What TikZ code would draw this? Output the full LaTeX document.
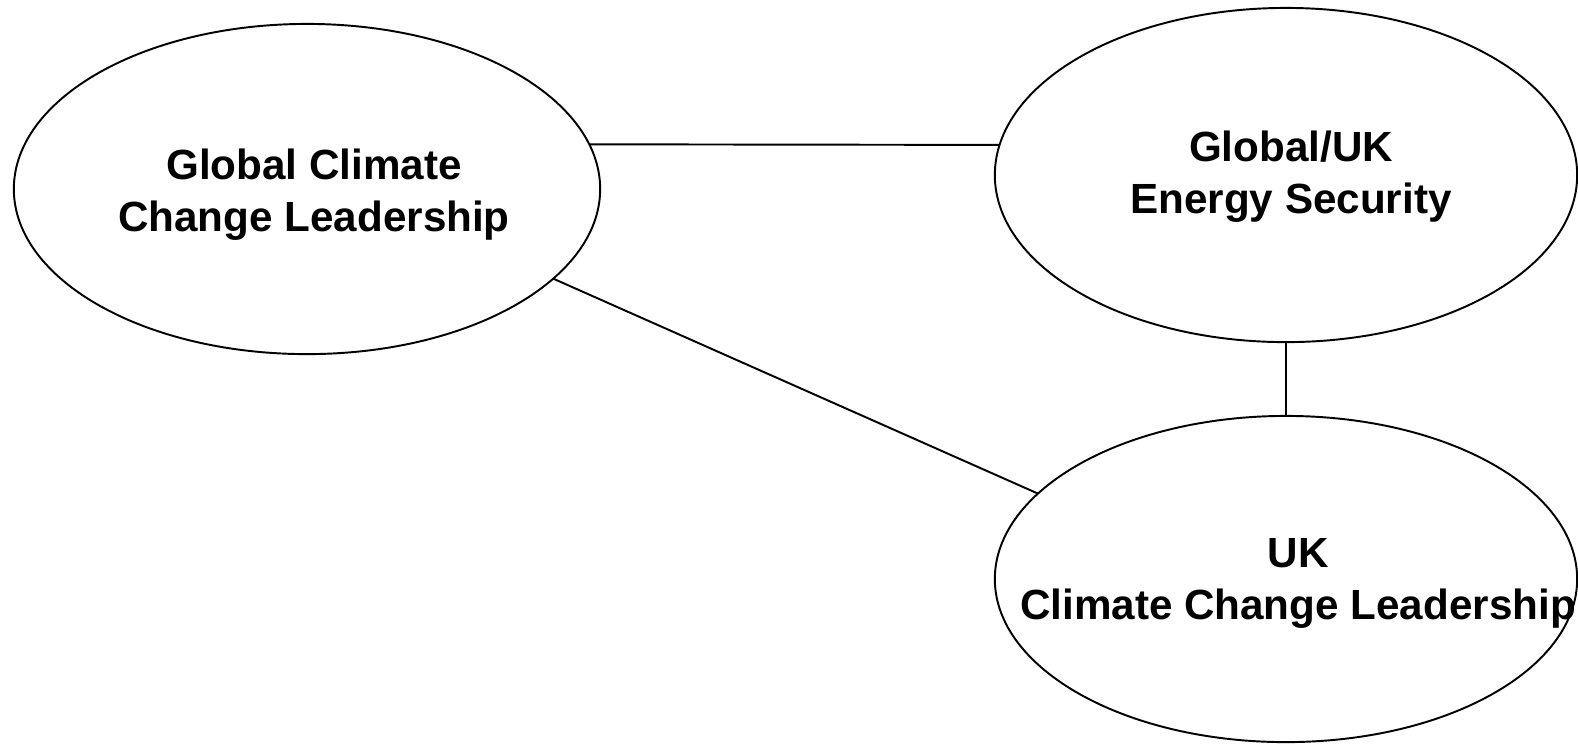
\documentclass[tikz,border=0pt]{standalone}
\usepackage{fontspec}
\setmainfont{Liberation Sans}
\usetikzlibrary{shapes.geometric}

\begin{document}
\begin{tikzpicture}[x=0.01cm,y=-0.01cm]
		    \tikzstyle{oval}=[ellipse, draw, line width=0.55pt, inner sep=0pt, outer sep=0pt]
		    \tikzstyle{link}=[line width=0.55pt]
		    \tikzstyle{txt}=[align=center, font=\fontsize{12}{14.8}\selectfont\bfseries]
		    \useasboundingbox (0,0) rectangle (1578,747);

		    \node[oval, minimum width=5.86cm, minimum height=3.30cm] (gl) at (307,189) {};
		    \node[oval, minimum width=5.82cm, minimum height=3.34cm] (es) at (1286,175) {};
		    \node[oval, minimum width=5.82cm, minimum height=3.26cm] (uk) at (1286,579) {};
		    \node[txt] (glt) at (314,195) {Global Climate\\Change Leadership};
		    \node[txt] (est) at (1291,177) {Global/UK\\Energy Security};
		    \node[txt] (ukt) at (1298,583) {UK\\Climate Change Leadership};

		    \draw[link] (gl.9) -- (es.174);
		    \draw[link] (gl.-20) -- (uk.161);
		    \draw[link] (es.south) -- (uk.north);
		    \end{tikzpicture}
\end{document}
